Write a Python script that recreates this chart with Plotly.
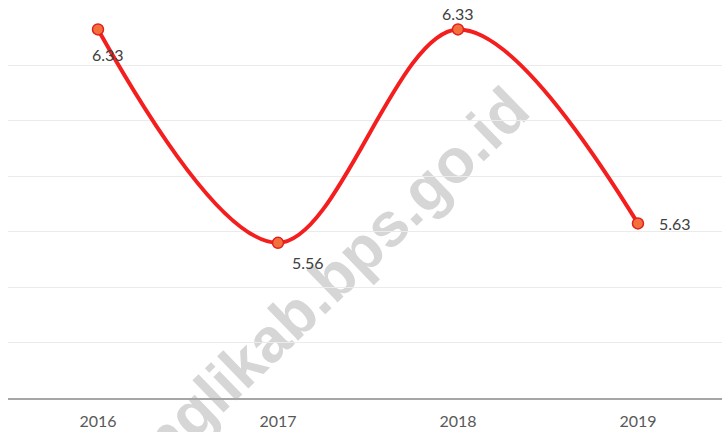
import plotly.graph_objects as go

# Annual values
years = ["2016", "2017", "2018", "2019"]
values = [6.33, 5.56, 6.33, 5.63]
value_labels = ["6.33", "5.56", "6.33", "5.63"]

# Label offsets (pixels) relative to each point
label_shift_x = [10, 30, 0, 37]
label_shift_y = [-25, -20, 16, 0]

LINE_RED = "#f41e1e"
TEXT = "#404040"
FONT = "Lato, Liberation Sans, sans-serif"

fig = go.Figure()

fig.add_trace(go.Scatter(
    x=years,
    y=values,
    mode="lines+markers",
    line=dict(color=LINE_RED, width=4, shape="spline", smoothing=1.0),
    marker=dict(size=11, color="#f4703a", line=dict(color="#e02020", width=1.5)),
    hoverinfo="x+y",
    showlegend=False,
))

for i, (v, lab, dx, dy) in enumerate(zip(values, value_labels, label_shift_x, label_shift_y)):
    fig.add_annotation(
        x=i, y=v, text=lab, showarrow=False,
        xshift=dx, yshift=dy,
        font=dict(family=FONT, size=16, color=TEXT),
    )

# Site watermark, kept underneath the data line
fig.add_shape(
    type="rect", xref="paper", yref="paper",
    x0=0.415, x1=0.415, y0=0.262, y1=0.262,
    line=dict(width=0), layer="below",
    label=dict(
        text="banglikab.bps.go.id",
        textangle=-44,
        textposition="middle center",
        font=dict(family="Liberation Sans, Arial, sans-serif", size=62,
                  color="#d6d6d6", weight="bold"),
    ),
)

fig.update_layout(
    width=722, height=432,
    margin=dict(l=8, r=0, t=10, b=34),
    paper_bgcolor="white",
    plot_bgcolor="white",
    xaxis=dict(
        type="category",
        range=[-0.5, 3.467],
        showgrid=False,
        showline=True, linecolor="#a6a6a6", linewidth=2,
        ticks="", ticklabelstandoff=8,
        tickfont=dict(family=FONT, size=16, color="#595959"),
        fixedrange=True,
    ),
    yaxis=dict(
        range=[5.0, 6.4],
        dtick=0.2,
        showticklabels=False,
        showgrid=True, gridcolor="#ebebeb", gridwidth=1,
        zeroline=False,
        fixedrange=True,
    ),
)

fig.write_html("out.html")
